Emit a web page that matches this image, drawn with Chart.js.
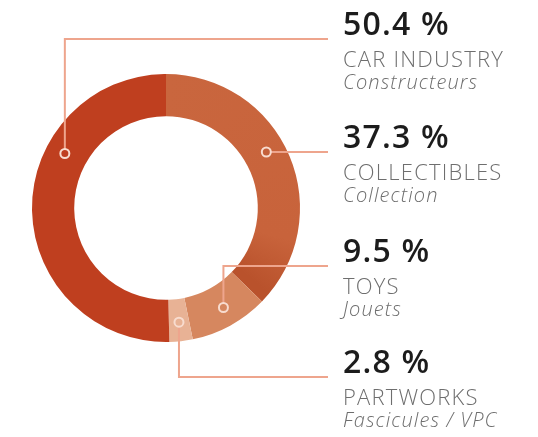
<!DOCTYPE html>
<html>
<head>
<meta charset="utf-8">
<script src="https://cdn.jsdelivr.net/npm/chart.js@4/dist/chart.umd.min.js"></script>
<style>
  html, body { margin: 0; padding: 0; background: #fff; }
  #wrap { position: relative; width: 538px; height: 437px; overflow: hidden; }
  #chart { position: absolute; left: 0; top: 0; }
  .lab { position: absolute; left: 343px; font-family: "Open Sans", sans-serif; white-space: nowrap; }
  .pct { font-size: 32px; line-height: 32px; font-weight: 600; color: #1c1c1c; letter-spacing: 1.2px; }
  .cat { font-size: 22px; line-height: 24px; margin-top: 7px; font-weight: 300; color: #6e6e6e; letter-spacing: 1.2px; }
  .sub { font-size: 20px; line-height: 23px; font-style: italic; font-weight: 300; color: #6e6e6e; letter-spacing: 1.1px; }
</style>
</head>
<body>
<div id="wrap">
  <canvas id="chart" width="538" height="437"></canvas>
</div>
<script>
// datos del grafico (orden horario desde arriba)
const categories = ['COLLECTIBLES', 'TOYS', 'PARTWORKS', 'CAR INDUSTRY'];
const subLabels = ['Collection', 'Jouets', 'Fascicules / VPC', 'Constructeurs'];
const shares = [37.3, 9.5, 2.8, 50.4];
const pctLabels = ['37.3 %', '9.5 %', '2.8 %', '50.4 %'];

const colors = ['#c8643c', '#d6875f', '#e8b295', '#bf3f1f'];
// posicion de cada etiqueta (top del bloque) y del punto sobre el arco
const labelTop = [120, 234, 345, 7];
const dotPos = [0.45, 0.46, 0.5, 0.66];
const leaderMode = ['h', 'v', 'v', 'v'];
const lineEndX = 328;

// etiquetas como texto real
const wrap = document.getElementById('wrap');
categories.forEach((c, i) => {
  const d = document.createElement('div');
  d.className = 'lab';
  d.style.top = labelTop[i] + 'px';
  d.innerHTML = '<div class="pct">' + pctLabels[i] + '</div>' +
    '<div class="cat">' + c + '</div>' +
    '<div class="sub">' + subLabels[i] + '</div>';
  wrap.appendChild(d);
});

// color por porcion; Collectibles lleva un degradado que oscurece al final
function sliceFill(c) {
  if (c.dataIndex !== 0) return colors[c.dataIndex];
  const ch = c.chart;
  const a = ch.chartArea;
  if (!a) return colors[0];
  const g = ch.ctx.createConicGradient(-Math.PI / 2, (a.left + a.right) / 2, (a.top + a.bottom) / 2);
  g.addColorStop(0, '#c9663e');
  g.addColorStop(0.29, '#c8633b');
  g.addColorStop(0.36, '#b9522c');
  g.addColorStop(1, '#b9522c');
  return g;
}

const leaders = {
  id: 'leaders',
  afterDraw(chart) {
    const ctx = chart.ctx;
    const arcs = chart.getDatasetMeta(0).data;
    arcs.forEach((arc, i) => {
      const p = arc.getProps(['x', 'y', 'startAngle', 'endAngle', 'innerRadius', 'outerRadius'], true);
      const rm = (p.innerRadius + p.outerRadius) / 2 + 2;
      const ang = p.startAngle + (p.endAngle - p.startAngle) * dotPos[i];
      const lineY = labelTop[i] + 32;
      let dx = p.x + rm * Math.cos(ang);
      let dy = p.y + rm * Math.sin(ang);
      if (leaderMode[i] === 'h') {
        dy = lineY;
        dx = p.x + Math.sqrt(rm * rm - (dy - p.y) * (dy - p.y));
      }
      ctx.save();
      ctx.strokeStyle = '#eea58d';
      ctx.lineWidth = 2;
      ctx.beginPath();
      ctx.moveTo(dx, dy);
      ctx.lineTo(dx, lineY);
      ctx.lineTo(lineEndX, lineY);
      ctx.stroke();
      ctx.beginPath();
      ctx.arc(dx, dy, 4.5, 0, Math.PI * 2);
      ctx.fillStyle = i === 0 ? '#c4603a' : colors[i];
      ctx.fill();
      ctx.strokeStyle = '#f8dccf';
      ctx.lineWidth = 2;
      ctx.stroke();
      ctx.restore();
    });
  }
};

new Chart(document.getElementById('chart'), {
  type: 'doughnut',
  data: {
    labels: categories,
    datasets: [{
      data: shares,
      backgroundColor: sliceFill,
      borderWidth: 0
    }]
  },
  options: {
    responsive: false,
    animation: false,
    cutout: '68.5%',
    layout: { padding: { left: 32, top: 74, right: 238, bottom: 95 } },
    plugins: {
      legend: { display: false },
      tooltip: { enabled: false }
    }
  },
  plugins: [leaders]
});
</script>
</body>
</html>
